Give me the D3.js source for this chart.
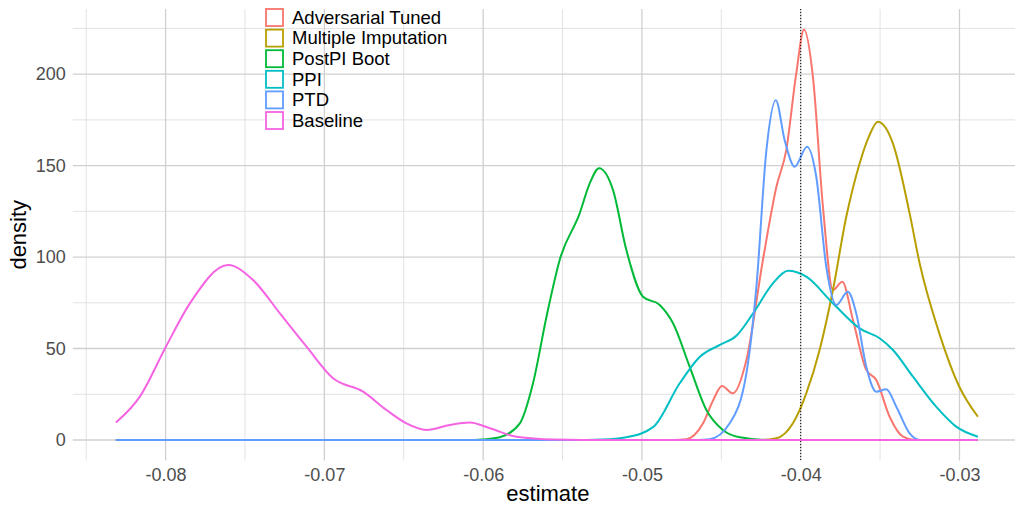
<!DOCTYPE html>
<html lang="en">
<head>
    <title>Density of estimates</title>
    <meta charset="utf-8"/>
    <script src="https://d3js.org/d3.v7.min.js"></script>
    <style>
        body { margin: 0; background: #fff; }
        svg { font-family: "Liberation Sans", Arial, sans-serif; display: block; }
        .tick line { display: none; }
        .domain { display: none; }
    </style>
</head>
<body>

<svg width="1015" height="506"></svg>

<script type="text/javascript">

    // series names, in the legend order
    const methods = ["Adversarial Tuned", "Multiple Imputation", "PostPI Boot", "PPI", "PTD", "Baseline"];
    const colors = ["#F8766D", "#B79F00", "#00BA38", "#00BFC4", "#619CFF", "#F564E3"];

    // density curves: [estimate, density]
    const adversarialTuned = [[-0.08313, 0], [-0.0480, 0], [-0.0472, 0.4], [-0.04615, 9.1], [-0.0455, 22], [-0.04496, 29.5],
        [-0.04427, 25.5], [-0.04342, 43.7], [-0.04238, 98.4], [-0.04153, 138.4], [-0.04091, 158.5], [-0.04028, 200.4],
        [-0.03979, 224.4], [-0.03923, 198.5], [-0.0386, 127.5], [-0.03797, 82], [-0.03738, 86.5], [-0.03671, 65.6],
        [-0.03587, 38.3], [-0.03524, 32.8], [-0.0344, 12.7], [-0.03356, 1.8], [-0.0328, 0], [-0.02884, 0]];
    const multipleImputation = [[-0.08313, 0], [-0.0425, 0], [-0.04153, 0.9], [-0.04049, 9.1], [-0.03965, 25.5],
        [-0.03881, 49.2], [-0.03797, 82], [-0.03713, 122], [-0.03629, 151.2], [-0.0357, 166], [-0.03514, 174],
        [-0.0346, 170], [-0.03419, 162], [-0.03314, 123.9], [-0.03251, 96.6], [-0.03127, 58.3], [-0.03001, 29.1],
        [-0.02884, 12.7]];
    const postpiBoot = [[-0.08313, 0], [-0.0605, 0], [-0.06, 0.3], [-0.05895, 1.5], [-0.05769, 9.1], [-0.05686, 31],
        [-0.05601, 67.4], [-0.05518, 98.4], [-0.05392, 123.9], [-0.0533, 140], [-0.0527, 148.5], [-0.05182, 136.6],
        [-0.05098, 103.8], [-0.04993, 78.3], [-0.04888, 73.8], [-0.04804, 63.8], [-0.04699, 40], [-0.04594, 16.4],
        [-0.0449, 5.5], [-0.04384, 1.5], [-0.042, 0], [-0.02884, 0]];
    const ppi = [[-0.08313, 0], [-0.0535, 0], [-0.0525, 0.2], [-0.05098, 1.5], [-0.0493, 7], [-0.04762, 31],
        [-0.04635, 45.5], [-0.04509, 52], [-0.04405, 57], [-0.043, 69.2], [-0.04175, 85.6], [-0.0408, 92.5],
        [-0.03965, 89.3], [-0.03797, 74.7], [-0.03629, 61], [-0.03503, 55.6], [-0.03419, 49.2], [-0.03293, 34.6],
        [-0.03147, 18.2], [-0.03021, 7.3], [-0.02884, 1.8]];
    const ptd = [[-0.08313, 0], [-0.0465, 0], [-0.04573, 0.4], [-0.04447, 9.1], [-0.04342, 36.4], [-0.04279, 83.8],
        [-0.04216, 158.5], [-0.04157, 185.8], [-0.04101, 163.9], [-0.04038, 149.4], [-0.0396, 160.3], [-0.03902, 143.9],
        [-0.03839, 94.7], [-0.03776, 73.8], [-0.03703, 81], [-0.0365, 69.2], [-0.03587, 40], [-0.03524, 26.4],
        [-0.03461, 27.7], [-0.03398, 18.2], [-0.03314, 3.6], [-0.0325, 0], [-0.02884, 0]];
    const baseline = [[-0.08313, 9.5], [-0.08162, 23.7], [-0.07998, 51], [-0.07847, 74.7], [-0.07606, 95.6],
        [-0.07449, 87.4], [-0.0728, 69.2], [-0.07112, 51], [-0.06945, 33.7], [-0.06756, 26.4], [-0.06609, 16.4],
        [-0.06483, 9.1], [-0.06357, 5.5], [-0.0621, 8.2], [-0.06084, 9.5], [-0.05958, 6.4], [-0.0579, 1.8],
        [-0.0555, 0.3], [-0.052, 0], [-0.02884, 0]];

    const curves = [adversarialTuned, multipleImputation, postpiBoot, ppi, ptd, baseline];

    // axis ticks and reference line
    const xTicks = [-0.08, -0.07, -0.06, -0.05, -0.04, -0.03];
    const xMinor = [-0.085, -0.075, -0.065, -0.055, -0.045, -0.035];
    const yTicks = [0, 50, 100, 150, 200];
    const yMinor = [25, 75, 125, 175, 225];
    const trueValue = -0.04;

    // panel (right side runs past the picture edge, like the original)
    const pLeft = 72.8, pRight = 1021, pTop = 9, pBottom = 460.5;

    // ggplot-like 5% expansion
    const all = curves.flat();
    const xExt = d3.extent(all, d => d[0]);
    const yMax = d3.max(all, d => d[1]);
    const xPad = (xExt[1] - xExt[0]) * 0.05, yPad = yMax * 0.05;

    let xScale = d3.scaleLinear().domain([xExt[0] - xPad, xExt[1] + xPad]).range([pLeft, pRight]);
    let yScale = d3.scaleLinear().domain([-yPad, yMax + yPad]).range([pBottom, pTop]);

    const svg = d3.select("svg");

    // grid
    const grid = svg.append("g");
    grid.selectAll(".ymin").data(yMinor).join("line")
        .attr("x1", pLeft).attr("x2", pRight)
        .attr("y1", d => yScale(d)).attr("y2", d => yScale(d))
        .attr("stroke", "#e2e2e2").attr("stroke-width", 1);
    grid.selectAll(".xmin").data(xMinor).join("line")
        .attr("y1", pTop).attr("y2", pBottom)
        .attr("x1", d => xScale(d)).attr("x2", d => xScale(d))
        .attr("stroke", "#e2e2e2").attr("stroke-width", 1);
    grid.selectAll(".ymaj").data(yTicks).join("line")
        .attr("x1", pLeft).attr("x2", pRight)
        .attr("y1", d => yScale(d)).attr("y2", d => yScale(d))
        .attr("stroke", "#d0d0d0").attr("stroke-width", 1.3);
    grid.selectAll(".xmaj").data(xTicks).join("line")
        .attr("y1", pTop).attr("y2", pBottom)
        .attr("x1", d => xScale(d)).attr("x2", d => xScale(d))
        .attr("stroke", "#d0d0d0").attr("stroke-width", 1.3);

    // axes (labels only)
    let xAxis = d3.axisBottom(xScale).tickValues(xTicks).tickSize(0).tickPadding(0)
        .tickFormat(d => d3.format(".2f")(d).replace("−", "-"));
    svg.append("g")
        .attr("transform", "translate(0," + (pBottom + 8) + ")")
        .call(xAxis)
        .call(g => g.selectAll("text").attr("font-size", 18).attr("fill", "#4d4d4d"))
        .attr("font-family", null);

    let yAxis = d3.axisLeft(yScale).tickValues(yTicks).tickSize(0).tickPadding(0);
    svg.append("g")
        .attr("transform", "translate(" + (pLeft - 7) + ",0)")
        .call(yAxis)
        .call(g => g.selectAll("text").attr("font-size", 18).attr("fill", "#4d4d4d"))
        .attr("font-family", null);

    // axis titles
    svg.append("text")
        .attr("x", (pLeft + 1015) / 2 + 4).attr("y", 500.5)
        .attr("text-anchor", "middle").attr("font-size", 22).attr("fill", "#000")
        .text("estimate");
    svg.append("text")
        .attr("transform", "translate(26," + ((pTop + pBottom) / 2) + ") rotate(-90)")
        .attr("text-anchor", "middle").attr("font-size", 22).attr("fill", "#000")
        .text("density");

    // density lines
    let line = d3.line()
        .x(d => xScale(d[0]))
        .y(d => yScale(d[1]))
        .curve(d3.curveMonotoneX);

    svg.append("g").selectAll("path").data(curves).join("path")
        .attr("d", d => line(d))
        .attr("fill", "none")
        .attr("stroke", (d, i) => colors[i])
        .attr("stroke-width", 2)
        .attr("stroke-linejoin", "round");

    // dotted reference line
    svg.append("line")
        .attr("x1", xScale(trueValue)).attr("x2", xScale(trueValue))
        .attr("y1", pTop).attr("y2", pBottom)
        .attr("stroke", "#000").attr("stroke-width", 1)
        .attr("stroke-dasharray", "1,2");

    // legend
    const legend = svg.append("g").attr("transform", "translate(265,8)");
    const rows = legend.selectAll("g").data(methods).join("g")
        .attr("transform", (d, i) => "translate(0," + (i * 20.6) + ")");
    rows.append("rect")
        .attr("x", 1).attr("y", 1).attr("width", 17).attr("height", 17)
        .attr("fill", "#fff")
        .attr("stroke", (d, i) => colors[i]).attr("stroke-width", 1.8);
    rows.append("text")
        .attr("x", 27).attr("y", 15.8)
        .attr("font-size", 18.5).attr("fill", "#000")
        .text(d => d);

</script>
</body>
</html>
